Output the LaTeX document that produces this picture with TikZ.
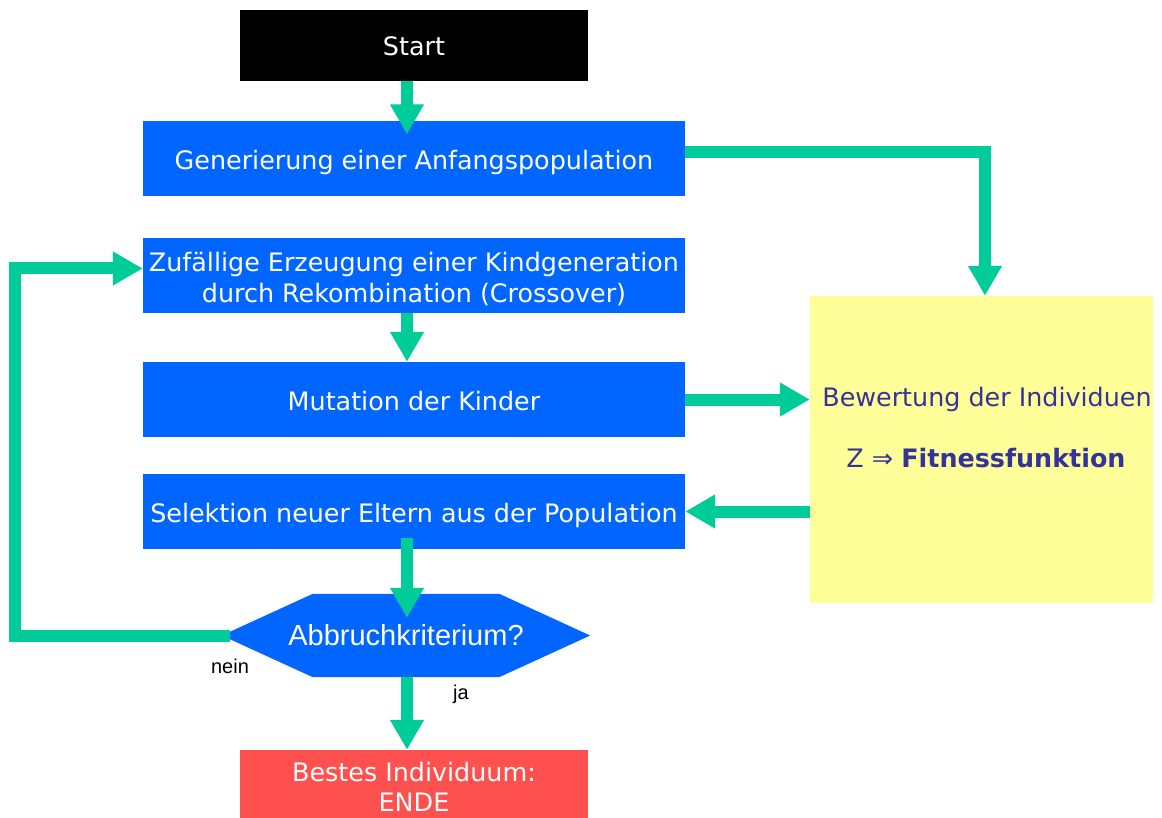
\documentclass[tikz,border=0pt]{standalone}
\usepackage{fontspec}
\setmainfont{DejaVu Sans}
\newfontfamily\arialfont{Liberation Sans}
\usetikzlibrary{arrows.meta,backgrounds,positioning}
\definecolor{flowgreen}{RGB}{0,204,153}
\definecolor{boxblue}{RGB}{0,102,255}
\definecolor{endred}{RGB}{255,80,80}
\definecolor{evalyellow}{RGB}{255,255,153}
\definecolor{evaltext}{RGB}{51,51,153}
\tikzset{
 stepbox/.style={fill=boxblue, text=white, minimum width=542pt, minimum height=75pt, inner sep=0pt, align=center, text height=21pt, text depth=0pt, font=\fontsize{25.4}{31}\selectfont},
 termbox/.style={text=white, minimum width=348pt, minimum height=71pt, inner sep=0pt, align=center, text height=21pt, text depth=0pt, font=\fontsize{25.4}{30}\selectfont},
 decision/.style={text=white, minimum width=368pt, minimum height=83pt, inner sep=0pt, font=\arialfont\fontsize{29}{33}\selectfont},
 evalbox/.style={fill=evalyellow, minimum width=343pt, minimum height=307pt, inner sep=0pt},
 evallabel/.style={text=evaltext, inner sep=0pt, font=\fontsize{25.4}{30}\selectfont},
 cond/.style={inner sep=0pt, font=\arialfont\fontsize{20}{24}\selectfont},
 flow/.style={draw=flowgreen, line width=12pt, -{Triangle[width=32pt,length=30pt]}}
}
\begin{document}
\begin{tikzpicture}[x=1pt,y=-1pt]
 \useasboundingbox (0,0) rectangle (1162,818);
 % coordinates
 \coordinate (ax) at (407,0);
 \coordinate (lx) at (15,0);

 % boxes
 \node (start) at (414,45.5) [termbox,fill=black] {Start};
 \node (gen) at (414,159) [stepbox] {Generierung einer Anfangspopulation};
 \node (zuf) at (414,275.5) [stepbox,text height=55pt] {Zufällige Erzeugung einer Kindgeneration\\durch Rekombination (Crossover)};
 \node (mut) at (414,399.5) [stepbox] {Mutation der Kinder};
 \node (sel) at (414,511.5) [stepbox] {Selektion neuer Eltern aus der Population};
 \node (abbr) at (406,635.5) [decision] {Abbruchkriterium?};
 \node (best) at (414,784) [termbox,fill=endred,minimum height=68pt,text height=54pt] {Bestes Individuum:\\ENDE};
 \node (bew) at (981.5,449.5) [evalbox] {};

 % hexagon behind the question
 \begin{scope}[on background layer]
  \fill[boxblue] (abbr.west) -- ([xshift=91pt]abbr.north west) -- ([xshift=-91pt]abbr.north east)
   -- (abbr.east) -- ([xshift=-91pt]abbr.south east) -- ([xshift=91pt]abbr.south west) -- cycle;
 \end{scope}

 % labels
 \node (b1) at (987,399.5) [evallabel] {Bewertung der Individuen};
 \node (b2) at (986,458) [evallabel] {Z ⇒ \textbf{Fitnessfunktion}};
 \node (nein) at (230,666) [cond] {nein};
 \node (ja) at (461,694) [cond] {ja};

 % connectors
 \draw[flow,shorten >=-13pt] (start.south -| ax) -- (gen.north -| ax);
 \draw[flow] ([yshift=7pt]gen.east) -| ([xshift=3.5pt]bew.north);
 \draw[flow] (zuf.south -| ax) -- (mut.north -| ax);
 \draw[flow] (mut.east) -- (mut.east -| bew.west);
 \draw[flow] (sel.east -| bew.west) -- (sel.east);
 \draw[flow,shorten <=-11pt,shorten >=-24pt] (sel.south -| ax) -- (abbr.north -| ax);
 \draw[flow] (abbr.south -| ax) -- (best.north -| ax);
 \draw[flow] ([xshift=8pt]abbr.west) -- (abbr.west -| lx) |- ([yshift=7pt]zuf.west);
\end{tikzpicture}
\end{document}
